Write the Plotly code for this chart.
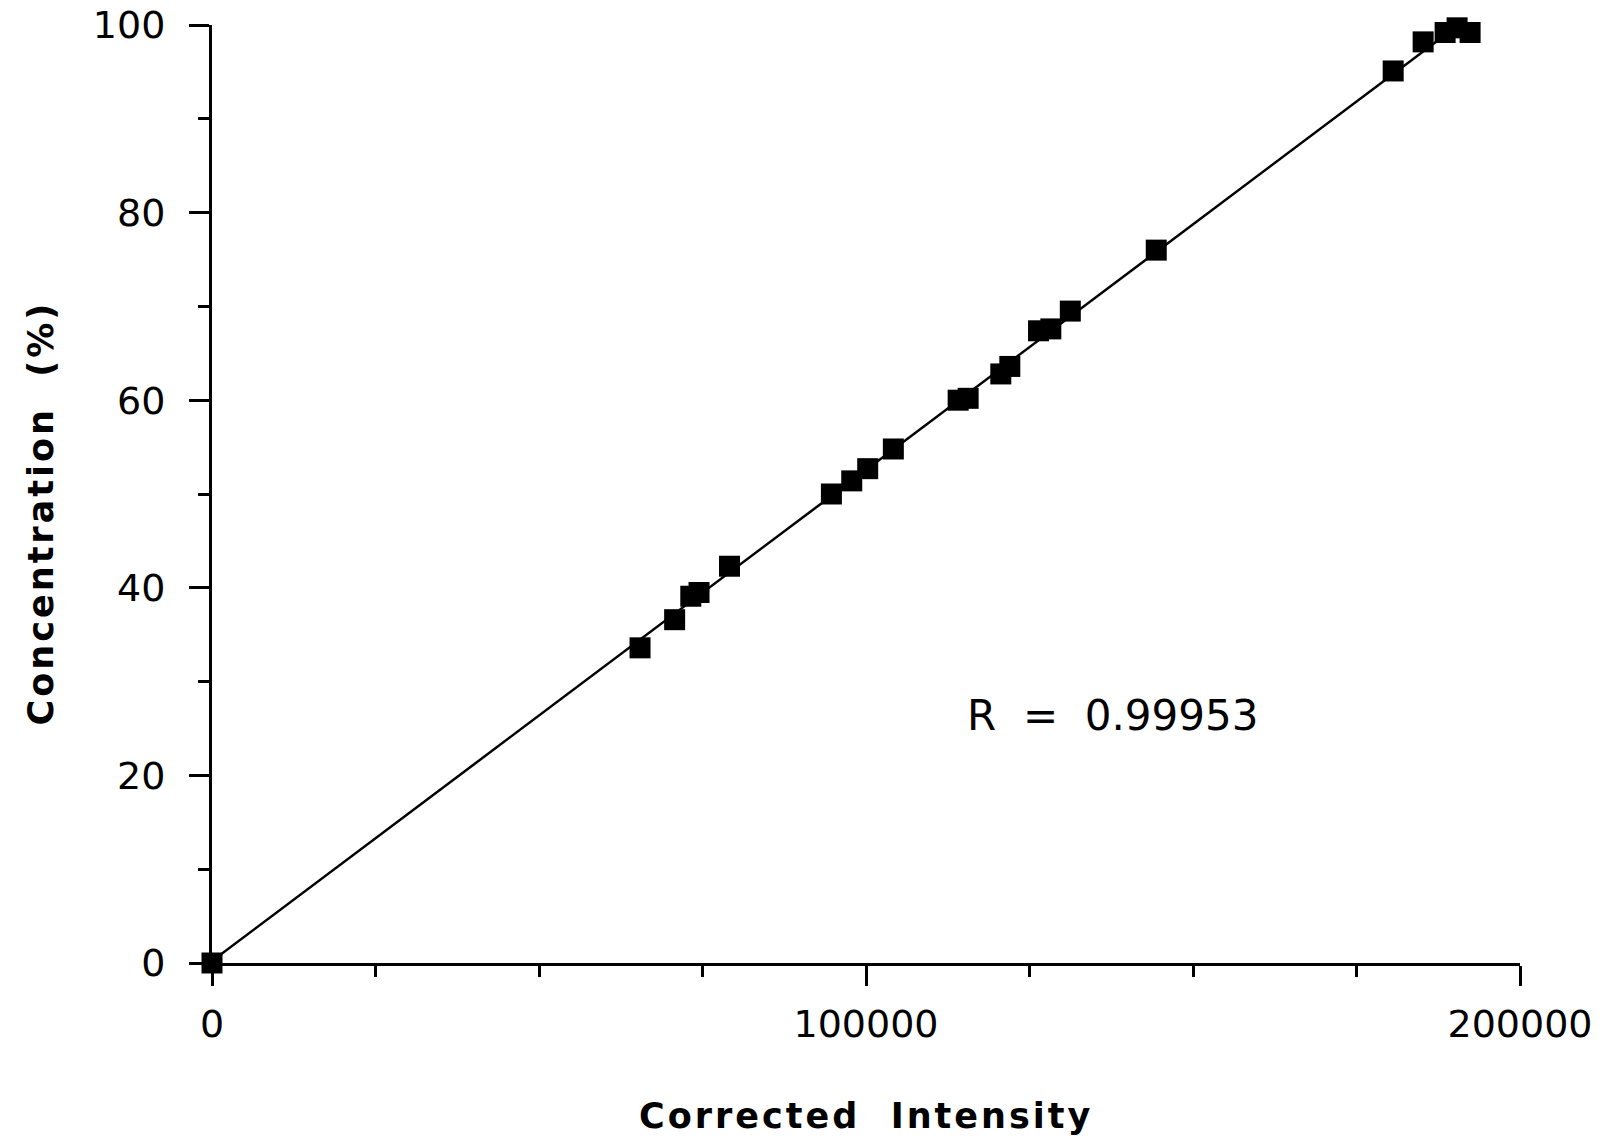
import numpy as np
import plotly.graph_objects as go

# Calibration standards: corrected intensity vs. concentration (%)
intensity = [0, 65450, 70740, 73210, 74470, 79130, 94710, 97820, 100260,
             104180, 114090, 115620, 120610, 121990, 126380, 128260, 131240,
             144380, 180610, 185190, 188550, 190380, 191450, 192370]
concentration = [0.0, 33.6, 36.6, 39.1, 39.5, 42.3, 50.0, 51.4, 52.7,
                 54.8, 60.0, 60.2, 62.8, 63.6, 67.4, 67.6, 69.5,
                 76.0, 95.1, 98.2, 99.2, 99.7, 100.2, 99.2]

x_ticks = [0, 100000, 200000]
y_ticks = [0, 20, 40, 60, 80, 100]
r_label = "R\u00a0\u00a0=\u00a0\u00a00.99953"

# Linear least-squares calibration line
slope, intercept = np.polyfit(intensity, concentration, 1)
fit_x = np.array([0.0, max(intensity)])
fit_y = slope * fit_x + intercept

FONT = "DejaVu Sans"

fig = go.Figure()
fig.add_trace(go.Scatter(
    x=fit_x, y=fit_y, mode="lines",
    line=dict(color="black", width=2.5),
    showlegend=False, cliponaxis=False, hoverinfo="skip",
))
fig.add_trace(go.Scatter(
    x=intensity, y=concentration, mode="markers",
    marker=dict(symbol="square", size=21, color="black",
                line=dict(width=0)),
    showlegend=False, cliponaxis=False,
))

axis_common = dict(
    showgrid=False, zeroline=False, showline=True, automargin=False,
    linecolor="black", linewidth=3,
    ticks="outside", ticklen=20, tickwidth=3, tickcolor="black",
    tickfont=dict(family=FONT, size=38, color="black"),
)

fig.update_xaxes(
    range=[0, 200000], tickmode="array", tickvals=x_ticks,
    ticktext=[str(v) for v in x_ticks],
    minor=dict(dtick=25000, ticks="outside", ticklen=11, tickwidth=3,
               tickcolor="black", showgrid=False),
    ticklabelstandoff=5,
    **axis_common,
)
fig.update_yaxes(
    range=[0, 100], tickmode="array", tickvals=y_ticks,
    ticktext=[str(v) for v in y_ticks],
    minor=dict(dtick=10, ticks="outside", ticklen=11, tickwidth=3,
               tickcolor="black", showgrid=False),
    ticklabelstandoff=16,
    **axis_common,
)

fig.add_annotation(
    x=137700, y=26.4, xref="x", yref="y", text=r_label, showarrow=False,
    font=dict(family=FONT, size=42, color="black"),
    xanchor="center", yanchor="middle",
)
fig.add_annotation(
    x=0.5, y=-0.163, xref="paper", yref="paper",
    text="<b>Corrected\u00a0\u00a0Intensity</b>", showarrow=False,
    font=dict(family=FONT, size=35, color="black"),
    xanchor="center", yanchor="middle",
)
fig.add_annotation(
    x=-0.131, y=0.48, xref="paper", yref="paper",
    text="<b>Concentration\u00a0\u00a0(%)</b>", showarrow=False, textangle=-90,
    font=dict(family=FONT, size=35, color="black"),
    xanchor="center", yanchor="middle",
)

fig.update_layout(
    width=1608, height=1141,
    margin=dict(l=212, r=88, t=25, b=178),
    paper_bgcolor="white", plot_bgcolor="white",
)

# Widen the letter spacing of the two axis titles
spacing_js = """
var gd = document.getElementById('{plot_id}');
function spaceTitles() {
  var anns = gd.querySelectorAll('g.annotation');
  anns.forEach(function (g) {
    var idx = g.getAttribute('data-index');
    if (idx === '1' || idx === '2') {
      var t = g.querySelector('text.annotation-text');
      if (t) { t.style.letterSpacing = '3px'; }
    }
  });
}
spaceTitles();
if (gd.on) { gd.on('plotly_afterplot', spaceTitles); }
"""

fig.write_html("out.html", post_script=spacing_js)
